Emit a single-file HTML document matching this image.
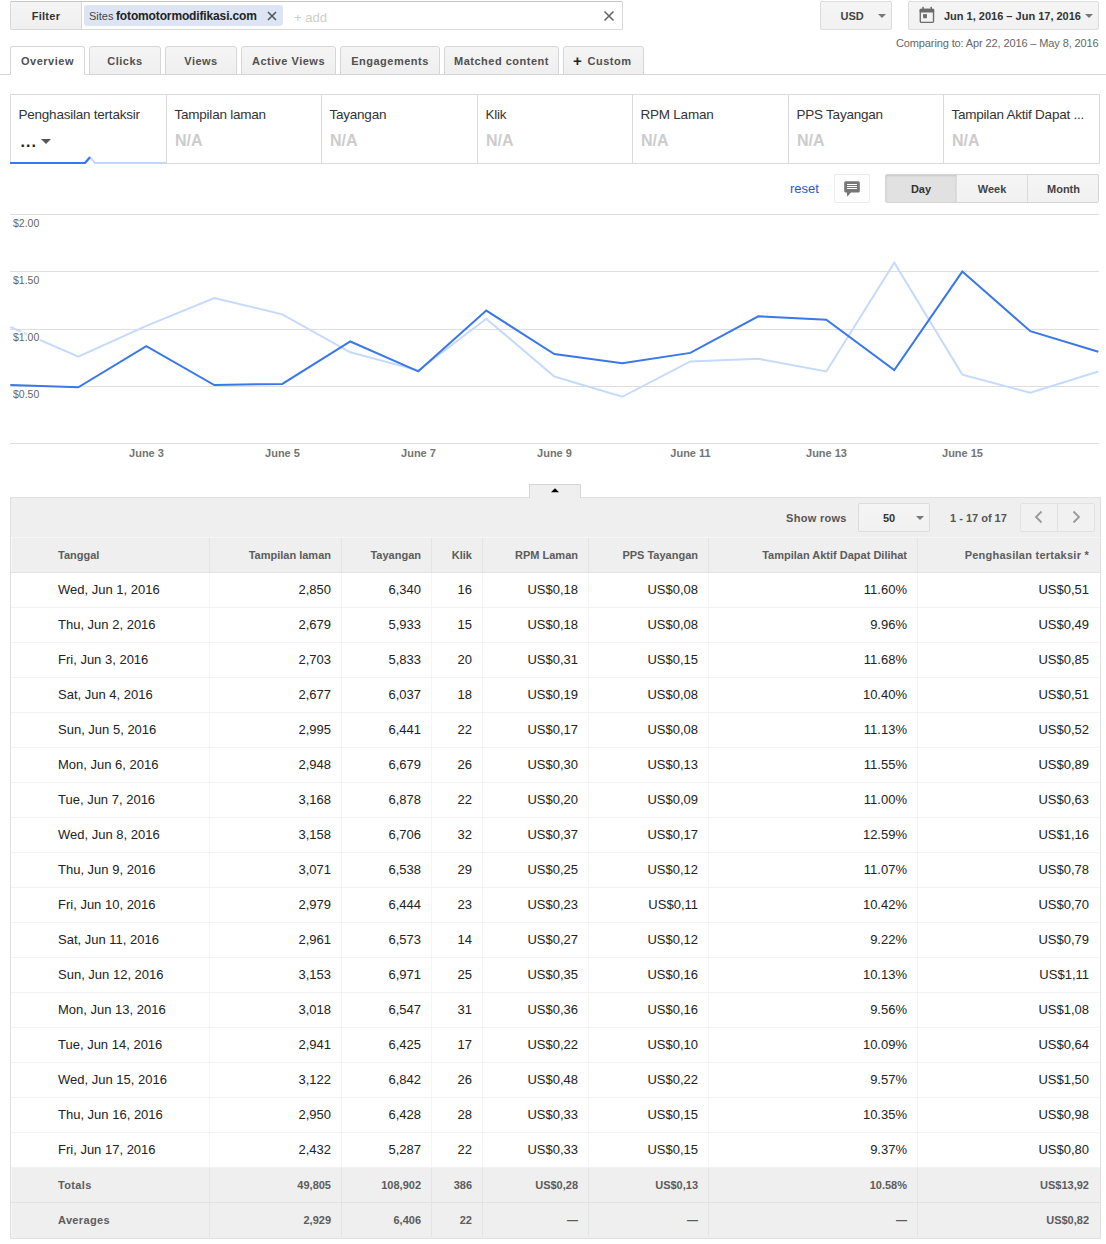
<!DOCTYPE html>
<html><head><meta charset="utf-8"><title>Report</title>
<style>
*{box-sizing:border-box;margin:0;padding:0}
html,body{width:1106px;height:1244px;overflow:hidden;background:#fff}
body{position:relative;font-family:"Liberation Sans",Arial,sans-serif;color:#222;font-size:13px}
.a{position:absolute;white-space:nowrap}
.b{font-weight:bold}
.caret{width:0;height:0;border-left:4px solid transparent;border-right:4px solid transparent;border-top:4px solid #777}
/* top bar */
#filter{left:10px;top:1px;width:613px;height:29px;border:1px solid #d9d9d9;border-top-color:#c4c4c4;background:#fff;border-radius:2px;overflow:hidden}
#filterbtn{left:0;top:0;width:71px;height:27px;background:linear-gradient(#f5f5f5,#efefef);border-right:1px solid #d9d9d9;font-size:11px;font-weight:bold;color:#333;text-align:center;line-height:29px;letter-spacing:0.3px}
#chip{left:73px;top:3px;width:199px;height:21px;background:#dde5f5;border-radius:3px}
#chipS{left:5px;top:5px;font-size:11px;color:#444;line-height:13px}
#chipV{left:32px;top:4px;font-size:12px;color:#222;line-height:14px;letter-spacing:-0.14px}
#chipX{left:183px;top:6px}
#add{left:283px;top:8px;font-size:13px;color:#cdcdcd;line-height:15px}
#clr{left:592px;top:8px}
.btn{background:linear-gradient(#f5f5f5,#f1f1f1);border:1px solid #dcdcdc;border-radius:2px;color:#444;font-weight:bold;font-size:11px}
#usd{left:820px;top:1px;width:72px;height:29px}
#usdT{left:19.5px;top:8px;line-height:12px}
#usdC{left:57px;top:12px}
#date{left:908px;top:1px;width:191px;height:29px}
#cal{left:10px;top:4px}
#dateT{left:35px;top:8px;line-height:12px;color:#333}
#dateC{left:176px;top:12px}
#cmp{left:896px;top:36.6px;font-size:11px;color:#666;line-height:13px;letter-spacing:-0.12px}
/* tabs */
#tabline{left:0;top:74px;width:1106px;height:1px;background:#d6d6d6}
.tab{top:46px;height:29px;background:linear-gradient(#f5f5f5,#efefef);border:1px solid #d6d6d6;border-bottom:1px solid #d6d6d6;border-radius:3px 3px 0 0;font-size:11px;font-weight:bold;color:#505050;text-align:center;line-height:28px;letter-spacing:0.5px}
.tab.act{background:#fff;border-bottom-color:#fff}
/* scorecards */
#cards{left:10px;top:94px;width:1090px;height:70px}
.card{top:0;height:70px;border:1px solid #dadada;background:#fff}
.card .t{left:7.5px;top:11.5px;font-size:13.5px;letter-spacing:-0.23px;color:#333;line-height:15px}
.card .v{left:8px;top:38px;font-size:16px;font-weight:bold;color:#ccc;line-height:16px}
.card .dots{left:9.5px;top:39px;font-size:16px;font-weight:bold;letter-spacing:1px;color:#222;line-height:16px}
#cardC{left:30px;top:44px;border-left-width:5px;border-right-width:5px;border-top:5px solid #555}
#uline{left:0;top:62px}
/* chart controls */
#reset{left:790px;top:181px;font-size:13px;color:#1a5dcc;line-height:15px}
#cmt{left:834px;top:174px;width:36px;height:29px;border:1px solid #ececec;border-radius:2px;background:#fff}
#seg{left:885px;top:174px;width:214px;height:29px;border:1px solid #d6d6d6;border-radius:2px;background:linear-gradient(#f5f5f5,#f1f1f1);overflow:hidden}
.sg{top:0;height:27px;line-height:29px;text-align:center;font-size:11px;font-weight:bold;color:#444;border-right:1px solid #dcdcdc}
.sg.on{background:#e1e1e1;box-shadow:inset 0 1px 2px rgba(0,0,0,.12);color:#333}
/* chart */
#chart{left:0;top:205px}
.yl{font-size:10.5px;fill:#666;stroke:#fff;stroke-width:3px;paint-order:stroke;stroke-linejoin:round;font-family:"Liberation Sans",Arial,sans-serif}
.xl{font-size:11px;font-weight:bold;fill:#747474;font-family:"Liberation Sans",Arial,sans-serif}
/* table */
#ttab{left:529px;top:484px;width:52px;height:14px;border:1px solid #d6d6d6;border-bottom:none;background:#efefef;z-index:2}
#tbl{left:10px;top:497px;width:1091px;height:742px;border:1px solid #e0e0e0;background:#efefef}
#showrows{left:775px;top:14px;font-size:11px;font-weight:bold;color:#555;line-height:13px;letter-spacing:0.3px}
#sel{left:847px;top:5px;width:72px;height:29px;border:1px solid #dcdcdc;border-radius:2px;background:linear-gradient(#f5f5f5,#f1f1f1)}
#selT{left:24px;top:8px;font-size:11px;font-weight:bold;color:#333;line-height:12px}
#selC{left:57px;top:12px}
#pg{left:939px;top:14px;font-size:11px;font-weight:bold;color:#555;line-height:13px}
#nav{left:1009px;top:5px;width:75px;height:29px;border:1px solid #e1e1e1;border-radius:2px;background:#f1f1f1}
#navd{left:36px;top:0;width:1px;height:27px;background:#e1e1e1}
.row{position:absolute;left:0;width:1089px;height:35px}
.cell{position:absolute;top:0;height:34px;line-height:34px;text-align:right;padding-right:10px;border-right:1px solid #f5f5f5}
.cell.c0{text-align:left;padding-left:47px}
.cell.cl{border-right:none;padding-right:11px}
.row.hdr .cell.cl{letter-spacing:0.25px}
.row.hdr{box-shadow:inset 1px 0 0 #f6f6f6;background:#efefef;border-top:1px solid #f6f6f6;border-bottom:1px solid #e2e2e2;height:36px}
.row.hdr .cell{font-size:11px;font-weight:bold;color:#5c5c5c;border-right-color:#e4e4e4}
.row.body{background:#fff;border-bottom:1px solid #f3f3f3}
.row.body .cell{font-size:13px;color:#222}
.row.tot{box-shadow:inset 1px 0 0 #f6f6f6;background:#efefef;border-bottom:1px solid #e2e2e2}
.row.tot .cell{font-size:11px;font-weight:bold;color:#5c5c5c;border-right-color:#e4e4e4}
.row.avg{border-bottom:none}
.row.tot .cell.c0{letter-spacing:0.35px}

</style></head><body>
<div class="a" id="filter">
 <div class="a" id="filterbtn">Filter</div>
 <div class="a" id="chip"><span class="a" id="chipS">Sites</span><span class="a b" id="chipV">fotomotormodifikasi.com</span>
  <svg class="a" id="chipX" width="10" height="10" viewBox="0 0 10 10"><path d="M1 1L9 9M9 1L1 9" stroke="#555" stroke-width="1.6"/></svg></div>
 <span class="a" id="add">+ add</span>
 <svg class="a" id="clr" width="12" height="12" viewBox="0 0 12 12"><path d="M1.5 1.5L10.5 10.5M10.5 1.5L1.5 10.5" stroke="#666" stroke-width="1.6"/></svg>
</div>
<div class="a btn" id="usd"><span class="a" id="usdT">USD</span><span class="a caret" id="usdC"></span></div>
<div class="a btn" id="date">
 <svg class="a" id="cal" width="16" height="19" viewBox="0 0 16 19"><rect x="1.28" y="3.48" width="13.25" height="12.95" rx="1.3" fill="none" stroke="#6b6b6b" stroke-width="1.35"/><rect x="0.6" y="2.8" width="14.6" height="3.8" rx="1" fill="#6b6b6b"/><rect x="3.4" y="0.8" width="1.4" height="2.5" rx="0.4" fill="#6b6b6b"/><rect x="11.6" y="0.8" width="1.4" height="2.5" rx="0.4" fill="#6b6b6b"/><rect x="4.1" y="8.1" width="3.8" height="4.1" fill="#6b6b6b"/></svg>
 <span class="a" id="dateT">Jun 1, 2016 – Jun 17, 2016</span><span class="a caret" id="dateC"></span></div>
<span class="a" id="cmp">Comparing to: Apr 22, 2016 – May 8, 2016</span>
<div class="a" id="tabline"></div>
<div class="a tab act" style="left:10px;width:75px">Overview</div>
<div class="a tab" style="left:89px;width:72px">Clicks</div>
<div class="a tab" style="left:165px;width:72px">Views</div>
<div class="a tab" style="left:241px;width:95px">Active Views</div>
<div class="a tab" style="left:340px;width:100px">Engagements</div>
<div class="a tab" style="left:444px;width:115px">Matched content</div>
<div class="a tab" style="left:563px;width:81px"><span class="a" style="left:9px;top:-0.5px;font-size:15px;color:#222;letter-spacing:0">+</span><span class="a" style="left:23.5px;top:0">Custom</span></div>
<div class="a" id="cards">
<div class="a card" style="left:0px;width:157px;border-bottom-color:#fff"><span class="a t">Penghasilan tertaksir</span><span class="a dots">...</span><span class="a caret" id="cardC"></span></div>
<div class="a card" style="left:156px;width:156px"><span class="a t">Tampilan laman</span><span class="a v">N/A</span></div>
<div class="a card" style="left:311px;width:157px"><span class="a t">Tayangan</span><span class="a v">N/A</span></div>
<div class="a card" style="left:467px;width:156px"><span class="a t">Klik</span><span class="a v">N/A</span></div>
<div class="a card" style="left:622px;width:157px"><span class="a t">RPM Laman</span><span class="a v">N/A</span></div>
<div class="a card" style="left:778px;width:156px"><span class="a t">PPS Tayangan</span><span class="a v">N/A</span></div>
<div class="a card" style="left:933px;width:157px"><span class="a t">Tampilan Aktif Dapat ...</span><span class="a v">N/A</span></div>
<svg class="a" id="uline" width="160" height="10" viewBox="0 0 160 10"><polyline points="0,7 75,7 80,1.2 85,7 156,7" fill="none" stroke="#c3d7fb" stroke-width="2"/><polyline points="0,7 75,7 80,1.2" fill="none" stroke="#3b78e7" stroke-width="2.2"/></svg>
</div>
<span class="a" id="reset">reset</span>
<div class="a" id="cmt"><svg class="a" width="16" height="16" viewBox="0 0 16 16" style="left:9px;top:6px"><rect x="0.2" y="0.2" width="15.6" height="11.4" rx="1.6" fill="#777"/><path d="M2.8 11L3.3 15.8L7.3 11Z" fill="#777"/><path d="M3 3.5H13M3 5.5H13M3 7.5H13" stroke="#fff" stroke-width="1"/></svg></div>
<div class="a" id="seg"><div class="a sg on" style="left:0;width:71px">Day</div><div class="a sg" style="left:71px;width:71px">Week</div><div class="a sg" style="left:142px;width:71px;border-right:none">Month</div></div>
<svg class="a" id="chart" width="1106" height="260" viewBox="0 205 1106 260"><line x1="10" y1="214.5" x2="1099" y2="214.5" stroke="#dedede" stroke-width="1"/><line x1="10" y1="271.5" x2="1099" y2="271.5" stroke="#dedede" stroke-width="1"/><line x1="10" y1="329.5" x2="1099" y2="329.5" stroke="#dedede" stroke-width="1"/><line x1="10" y1="386.5" x2="1099" y2="386.5" stroke="#dedede" stroke-width="1"/><line x1="10" y1="443.5" x2="1099" y2="443.5" stroke="#dedede" stroke-width="1"/><polyline points="10.3,327.0 78.3,356.6 146.3,325.9 214.3,298.0 282.3,314.4 350.3,352.3 418.3,370.5 486.3,318.7 554.3,376.5 622.3,396.8 690.3,361.4 758.3,358.8 826.3,371.5 894.3,262.7 962.3,374.6 1030.3,392.8 1098.3,371.5" fill="none" stroke="#c6dafc" stroke-width="2" stroke-linejoin="miter"/><polyline points="10.3,385.0 78.3,387.3 146.3,346.1 214.3,385.0 282.3,383.9 350.3,341.5 418.3,371.3 486.3,310.6 554.3,354.1 622.3,363.2 690.3,352.9 758.3,316.3 826.3,319.7 894.3,370.1 962.3,271.6 1030.3,331.2 1098.3,351.8" fill="none" stroke="#3b78e7" stroke-width="2" stroke-linejoin="miter"/><text x="13" y="226.5" class="yl">$2.00</text><text x="13" y="283.75" class="yl">$1.50</text><text x="13" y="341" class="yl">$1.00</text><text x="13" y="398.25" class="yl">$0.50</text><text x="146.5" y="457" class="xl" text-anchor="middle">June 3</text><text x="282.5" y="457" class="xl" text-anchor="middle">June 5</text><text x="418.5" y="457" class="xl" text-anchor="middle">June 7</text><text x="554.5" y="457" class="xl" text-anchor="middle">June 9</text><text x="690.5" y="457" class="xl" text-anchor="middle">June 11</text><text x="826.5" y="457" class="xl" text-anchor="middle">June 13</text><text x="962.5" y="457" class="xl" text-anchor="middle">June 15</text></svg>
<div class="a" id="ttab"><svg class="a" width="10" height="6" viewBox="0 0 10 6" style="left:21px;top:3px"><path d="M0 4.3L4 0.2L8 4.3Z" fill="#000"/></svg></div>
<div class="a" id="tbl">
<span class="a" id="showrows">Show rows</span><div class="a" id="sel"><span class="a" id="selT">50</span><span class="a caret" id="selC"></span></div><span class="a" id="pg">1 - 17 of 17</span><div class="a" id="nav"><svg class="a" width="12" height="14" viewBox="0 0 12 14" style="left:12px;top:6px"><path d="M8.5 1.5L3 7L8.5 12.5" fill="none" stroke="#999" stroke-width="1.8"/></svg><div class="a" id="navd"></div><svg class="a" width="12" height="14" viewBox="0 0 12 14" style="left:49px;top:6px"><path d="M3.5 1.5L9 7L3.5 12.5" fill="none" stroke="#999" stroke-width="1.8"/></svg></div>
<div class="a row hdr" style="top:39px"><div class="cell c0" style="left:0px;width:199px">Tanggal</div><div class="cell" style="left:199px;width:132px">Tampilan laman</div><div class="cell" style="left:331px;width:90px">Tayangan</div><div class="cell" style="left:421px;width:51px">Klik</div><div class="cell" style="left:472px;width:106px">RPM Laman</div><div class="cell" style="left:578px;width:120px">PPS Tayangan</div><div class="cell" style="left:698px;width:209px">Tampilan Aktif Dapat Dilihat</div><div class="cell cl" style="left:907px;width:182px">Penghasilan tertaksir *</div></div>
<div class="a row body" style="top:75px"><div class="cell c0" style="left:0px;width:199px">Wed, Jun 1, 2016</div><div class="cell" style="left:199px;width:132px">2,850</div><div class="cell" style="left:331px;width:90px">6,340</div><div class="cell" style="left:421px;width:51px">16</div><div class="cell" style="left:472px;width:106px">US$0,18</div><div class="cell" style="left:578px;width:120px">US$0,08</div><div class="cell" style="left:698px;width:209px">11.60%</div><div class="cell cl" style="left:907px;width:182px">US$0,51</div></div>
<div class="a row body" style="top:110px"><div class="cell c0" style="left:0px;width:199px">Thu, Jun 2, 2016</div><div class="cell" style="left:199px;width:132px">2,679</div><div class="cell" style="left:331px;width:90px">5,933</div><div class="cell" style="left:421px;width:51px">15</div><div class="cell" style="left:472px;width:106px">US$0,18</div><div class="cell" style="left:578px;width:120px">US$0,08</div><div class="cell" style="left:698px;width:209px">9.96%</div><div class="cell cl" style="left:907px;width:182px">US$0,49</div></div>
<div class="a row body" style="top:145px"><div class="cell c0" style="left:0px;width:199px">Fri, Jun 3, 2016</div><div class="cell" style="left:199px;width:132px">2,703</div><div class="cell" style="left:331px;width:90px">5,833</div><div class="cell" style="left:421px;width:51px">20</div><div class="cell" style="left:472px;width:106px">US$0,31</div><div class="cell" style="left:578px;width:120px">US$0,15</div><div class="cell" style="left:698px;width:209px">11.68%</div><div class="cell cl" style="left:907px;width:182px">US$0,85</div></div>
<div class="a row body" style="top:180px"><div class="cell c0" style="left:0px;width:199px">Sat, Jun 4, 2016</div><div class="cell" style="left:199px;width:132px">2,677</div><div class="cell" style="left:331px;width:90px">6,037</div><div class="cell" style="left:421px;width:51px">18</div><div class="cell" style="left:472px;width:106px">US$0,19</div><div class="cell" style="left:578px;width:120px">US$0,08</div><div class="cell" style="left:698px;width:209px">10.40%</div><div class="cell cl" style="left:907px;width:182px">US$0,51</div></div>
<div class="a row body" style="top:215px"><div class="cell c0" style="left:0px;width:199px">Sun, Jun 5, 2016</div><div class="cell" style="left:199px;width:132px">2,995</div><div class="cell" style="left:331px;width:90px">6,441</div><div class="cell" style="left:421px;width:51px">22</div><div class="cell" style="left:472px;width:106px">US$0,17</div><div class="cell" style="left:578px;width:120px">US$0,08</div><div class="cell" style="left:698px;width:209px">11.13%</div><div class="cell cl" style="left:907px;width:182px">US$0,52</div></div>
<div class="a row body" style="top:250px"><div class="cell c0" style="left:0px;width:199px">Mon, Jun 6, 2016</div><div class="cell" style="left:199px;width:132px">2,948</div><div class="cell" style="left:331px;width:90px">6,679</div><div class="cell" style="left:421px;width:51px">26</div><div class="cell" style="left:472px;width:106px">US$0,30</div><div class="cell" style="left:578px;width:120px">US$0,13</div><div class="cell" style="left:698px;width:209px">11.55%</div><div class="cell cl" style="left:907px;width:182px">US$0,89</div></div>
<div class="a row body" style="top:285px"><div class="cell c0" style="left:0px;width:199px">Tue, Jun 7, 2016</div><div class="cell" style="left:199px;width:132px">3,168</div><div class="cell" style="left:331px;width:90px">6,878</div><div class="cell" style="left:421px;width:51px">22</div><div class="cell" style="left:472px;width:106px">US$0,20</div><div class="cell" style="left:578px;width:120px">US$0,09</div><div class="cell" style="left:698px;width:209px">11.00%</div><div class="cell cl" style="left:907px;width:182px">US$0,63</div></div>
<div class="a row body" style="top:320px"><div class="cell c0" style="left:0px;width:199px">Wed, Jun 8, 2016</div><div class="cell" style="left:199px;width:132px">3,158</div><div class="cell" style="left:331px;width:90px">6,706</div><div class="cell" style="left:421px;width:51px">32</div><div class="cell" style="left:472px;width:106px">US$0,37</div><div class="cell" style="left:578px;width:120px">US$0,17</div><div class="cell" style="left:698px;width:209px">12.59%</div><div class="cell cl" style="left:907px;width:182px">US$1,16</div></div>
<div class="a row body" style="top:355px"><div class="cell c0" style="left:0px;width:199px">Thu, Jun 9, 2016</div><div class="cell" style="left:199px;width:132px">3,071</div><div class="cell" style="left:331px;width:90px">6,538</div><div class="cell" style="left:421px;width:51px">29</div><div class="cell" style="left:472px;width:106px">US$0,25</div><div class="cell" style="left:578px;width:120px">US$0,12</div><div class="cell" style="left:698px;width:209px">11.07%</div><div class="cell cl" style="left:907px;width:182px">US$0,78</div></div>
<div class="a row body" style="top:390px"><div class="cell c0" style="left:0px;width:199px">Fri, Jun 10, 2016</div><div class="cell" style="left:199px;width:132px">2,979</div><div class="cell" style="left:331px;width:90px">6,444</div><div class="cell" style="left:421px;width:51px">23</div><div class="cell" style="left:472px;width:106px">US$0,23</div><div class="cell" style="left:578px;width:120px">US$0,11</div><div class="cell" style="left:698px;width:209px">10.42%</div><div class="cell cl" style="left:907px;width:182px">US$0,70</div></div>
<div class="a row body" style="top:425px"><div class="cell c0" style="left:0px;width:199px">Sat, Jun 11, 2016</div><div class="cell" style="left:199px;width:132px">2,961</div><div class="cell" style="left:331px;width:90px">6,573</div><div class="cell" style="left:421px;width:51px">14</div><div class="cell" style="left:472px;width:106px">US$0,27</div><div class="cell" style="left:578px;width:120px">US$0,12</div><div class="cell" style="left:698px;width:209px">9.22%</div><div class="cell cl" style="left:907px;width:182px">US$0,79</div></div>
<div class="a row body" style="top:460px"><div class="cell c0" style="left:0px;width:199px">Sun, Jun 12, 2016</div><div class="cell" style="left:199px;width:132px">3,153</div><div class="cell" style="left:331px;width:90px">6,971</div><div class="cell" style="left:421px;width:51px">25</div><div class="cell" style="left:472px;width:106px">US$0,35</div><div class="cell" style="left:578px;width:120px">US$0,16</div><div class="cell" style="left:698px;width:209px">10.13%</div><div class="cell cl" style="left:907px;width:182px">US$1,11</div></div>
<div class="a row body" style="top:495px"><div class="cell c0" style="left:0px;width:199px">Mon, Jun 13, 2016</div><div class="cell" style="left:199px;width:132px">3,018</div><div class="cell" style="left:331px;width:90px">6,547</div><div class="cell" style="left:421px;width:51px">31</div><div class="cell" style="left:472px;width:106px">US$0,36</div><div class="cell" style="left:578px;width:120px">US$0,16</div><div class="cell" style="left:698px;width:209px">9.56%</div><div class="cell cl" style="left:907px;width:182px">US$1,08</div></div>
<div class="a row body" style="top:530px"><div class="cell c0" style="left:0px;width:199px">Tue, Jun 14, 2016</div><div class="cell" style="left:199px;width:132px">2,941</div><div class="cell" style="left:331px;width:90px">6,425</div><div class="cell" style="left:421px;width:51px">17</div><div class="cell" style="left:472px;width:106px">US$0,22</div><div class="cell" style="left:578px;width:120px">US$0,10</div><div class="cell" style="left:698px;width:209px">10.09%</div><div class="cell cl" style="left:907px;width:182px">US$0,64</div></div>
<div class="a row body" style="top:565px"><div class="cell c0" style="left:0px;width:199px">Wed, Jun 15, 2016</div><div class="cell" style="left:199px;width:132px">3,122</div><div class="cell" style="left:331px;width:90px">6,842</div><div class="cell" style="left:421px;width:51px">26</div><div class="cell" style="left:472px;width:106px">US$0,48</div><div class="cell" style="left:578px;width:120px">US$0,22</div><div class="cell" style="left:698px;width:209px">9.57%</div><div class="cell cl" style="left:907px;width:182px">US$1,50</div></div>
<div class="a row body" style="top:600px"><div class="cell c0" style="left:0px;width:199px">Thu, Jun 16, 2016</div><div class="cell" style="left:199px;width:132px">2,950</div><div class="cell" style="left:331px;width:90px">6,428</div><div class="cell" style="left:421px;width:51px">28</div><div class="cell" style="left:472px;width:106px">US$0,33</div><div class="cell" style="left:578px;width:120px">US$0,15</div><div class="cell" style="left:698px;width:209px">10.35%</div><div class="cell cl" style="left:907px;width:182px">US$0,98</div></div>
<div class="a row body" style="top:635px"><div class="cell c0" style="left:0px;width:199px">Fri, Jun 17, 2016</div><div class="cell" style="left:199px;width:132px">2,432</div><div class="cell" style="left:331px;width:90px">5,287</div><div class="cell" style="left:421px;width:51px">22</div><div class="cell" style="left:472px;width:106px">US$0,33</div><div class="cell" style="left:578px;width:120px">US$0,15</div><div class="cell" style="left:698px;width:209px">9.37%</div><div class="cell cl" style="left:907px;width:182px">US$0,80</div></div>
<div class="a row tot" style="top:670px"><div class="cell c0" style="left:0px;width:199px">Totals</div><div class="cell" style="left:199px;width:132px">49,805</div><div class="cell" style="left:331px;width:90px">108,902</div><div class="cell" style="left:421px;width:51px">386</div><div class="cell" style="left:472px;width:106px">US$0,28</div><div class="cell" style="left:578px;width:120px">US$0,13</div><div class="cell" style="left:698px;width:209px">10.58%</div><div class="cell cl" style="left:907px;width:182px">US$13,92</div></div>
<div class="a row tot avg" style="top:705px"><div class="cell c0" style="left:0px;width:199px">Averages</div><div class="cell" style="left:199px;width:132px">2,929</div><div class="cell" style="left:331px;width:90px">6,406</div><div class="cell" style="left:421px;width:51px">22</div><div class="cell" style="left:472px;width:106px">—</div><div class="cell" style="left:578px;width:120px">—</div><div class="cell" style="left:698px;width:209px">—</div><div class="cell cl" style="left:907px;width:182px">US$0,82</div></div>
</div>
</body></html>
